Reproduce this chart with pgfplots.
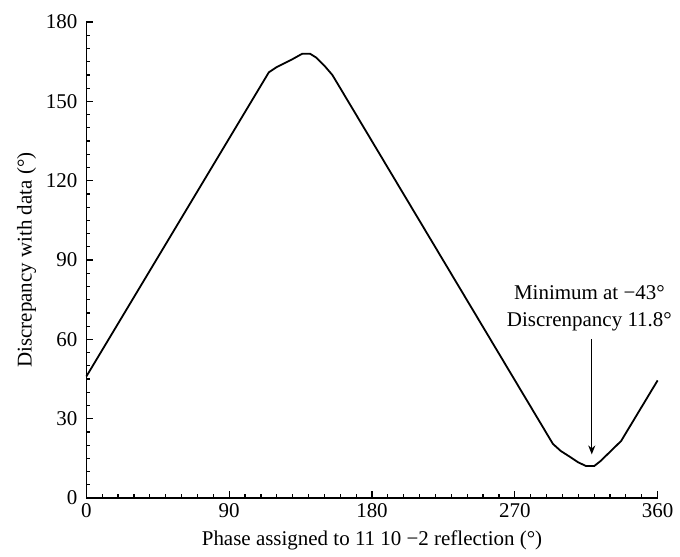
\documentclass[border=0pt]{standalone}
\usepackage{pgfplots}
\pgfplotsset{compat=1.18}
\usepackage{fontspec}
\setmainfont{Liberation Serif}
\usetikzlibrary{arrows.meta}
\begin{document}
\begin{tikzpicture}
\begin{axis}[
  name=ax,
  scale only axis,
  width=285bp, height=237.5bp,
  xmin=0, xmax=360, ymin=0, ymax=180,
  axis lines=left,
  axis line style={-, line width=0.7bp},
  xtick={0,90,180,270,360},
  ytick={0,30,60,90,120,150,180},
  minor x tick num=8,
  minor y tick num=5,
  tick align=inside,
  major tick length=3.5bp,
  minor tick length=2bp,
  tick style={black, line width=0.6bp},
  /pgf/number format/assume math mode=true,
  ticklabel style={font=\fontsize{10.5}{12}\selectfont},
  xticklabel style={yshift=1bp},
  yticklabel style={xshift=-1bp},
  label style={font=\fontsize{10.5}{12}\selectfont},
  xlabel={Phase assigned to 11 10 \textminus2 reflection (°)},
  ylabel={Discrepancy with data (°)},
  xlabel style={yshift=0bp, name=xlab},
  ylabel style={yshift=-2bp, name=ylab},
  clip=false,
]
\addplot[black, line width=0.9bp] coordinates {
(0,46) (115,161) (120,163) (125,164.5) (130,166) (136,168) (141,168)
(145,166.5) (150,163.5) (155,160) (160,155) (294,20.5) (299,17.8)
(305,15.5) (310,13.5) (315,12.1) (320,12.1) (324,14) (330,17.5)
(337,21.6) (360,44.5)
};
\draw[-{Stealth[length=4.5bp,width=3.5bp]}, line width=0.7bp] (axis cs:318.5,60) -- (axis cs:318.5,16.5);
\node[align=center, font=\fontsize{10.5}{13.5}\selectfont, anchor=south] at (axis cs:317,60.5) {Minimum at \textminus43°\\Discrenpancy 11.8°};
\end{axis}
\path ([xshift=-5bp]ylab.north);
\path ([yshift=11bp]ax.north west);
\end{tikzpicture}
\end{document}
